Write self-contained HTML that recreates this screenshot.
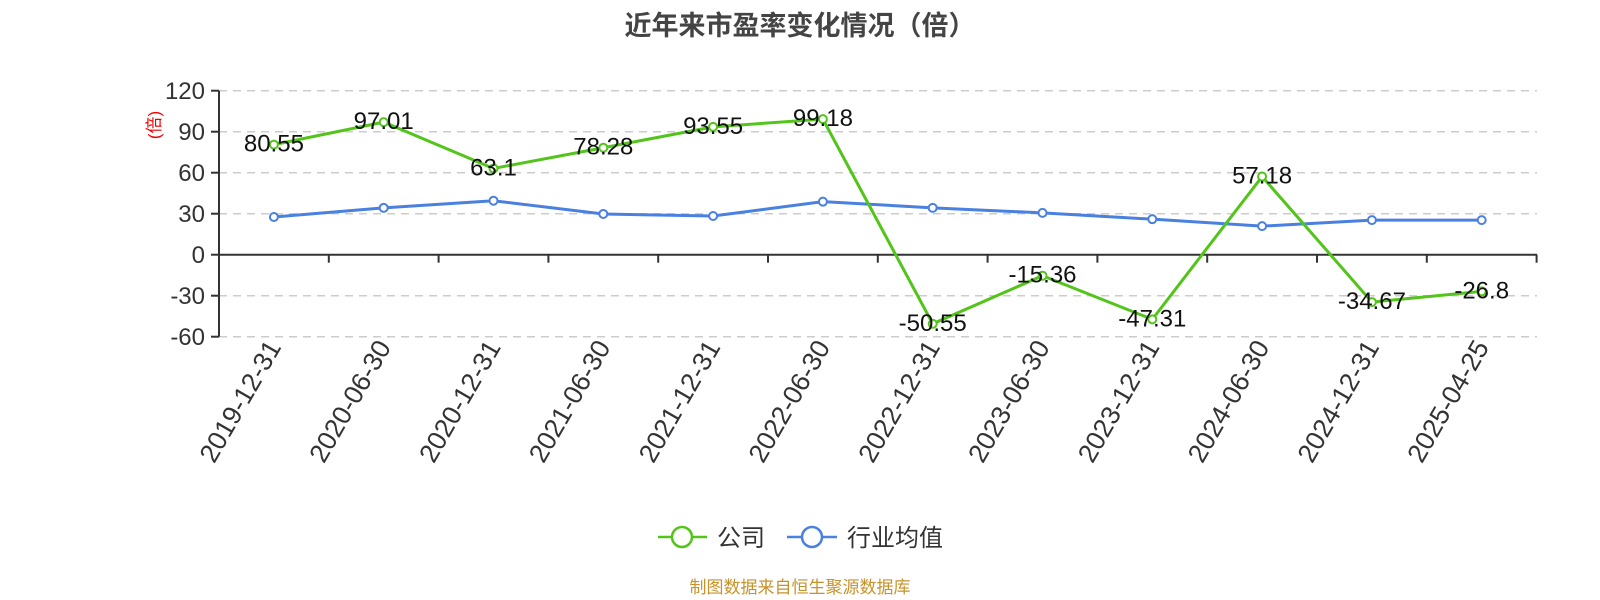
<!DOCTYPE html>
<html><head><meta charset="utf-8"><style>body{margin:0;background:#fff}svg{display:block}</style></head><body>
<svg width="1600" height="600" xmlns="http://www.w3.org/2000/svg" font-family="'Liberation Sans','Noto Sans CJK SC',sans-serif">
<text x="800" y="35" text-anchor="middle" font-size="27" font-weight="bold" fill="#444">近年来市盈率变化情况（倍）</text>
<g id="grid" stroke="#ccc" stroke-width="1.5" stroke-dasharray="8,6">
<line x1="219" x2="1537" y1="90.7" y2="90.7"/><line x1="219" x2="1537" y1="131.7" y2="131.7"/><line x1="219" x2="1537" y1="172.7" y2="172.7"/><line x1="219" x2="1537" y1="213.7" y2="213.7"/><line x1="219" x2="1537" y1="295.7" y2="295.7"/><line x1="219" x2="1537" y1="336.7" y2="336.7"/>
</g>
<g stroke="#333" stroke-width="2">
<line x1="219" y1="90.7" x2="219" y2="336.7"/>
<line x1="211" y1="90.7" x2="219" y2="90.7"/><line x1="211" y1="131.7" x2="219" y2="131.7"/><line x1="211" y1="172.7" x2="219" y2="172.7"/><line x1="211" y1="213.7" x2="219" y2="213.7"/><line x1="211" y1="254.7" x2="219" y2="254.7"/><line x1="211" y1="295.7" x2="219" y2="295.7"/><line x1="211" y1="336.7" x2="219" y2="336.7"/>
<line x1="219" y1="254.7" x2="1537" y2="254.7"/>
</g>
<g id="xt" stroke="#333" stroke-width="2"></g>
<g font-size="24" fill="#333" text-anchor="end">
<text x="205" y="99">120</text><text x="205" y="140">90</text><text x="205" y="181">60</text><text x="205" y="222">30</text><text x="205" y="263">0</text><text x="205" y="304">-30</text><text x="205" y="345">-60</text>
</g>
<text transform="translate(160,125) rotate(-90)" text-anchor="middle" font-size="17" fill="#e00">(倍)</text>
<g id="xl" font-size="26.5" fill="#333" text-anchor="end"></g>
<polyline id="pb" fill="none" stroke="#4a80e0" stroke-width="3"/>
<polyline id="pg" fill="none" stroke="#52c41a" stroke-width="3"/>
<g id="pts"></g>
<g id="lbl" font-size="24" fill="#111" text-anchor="middle"></g>
<g>
<line x1="658" y1="537" x2="707" y2="537" stroke="#52c41a" stroke-width="2.5"/><circle cx="682" cy="537" r="10" fill="#fff" stroke="#52c41a" stroke-width="2.5"/>
<text x="717" y="546" font-size="24" fill="#333">公司</text>
<line x1="787" y1="537" x2="837" y2="537" stroke="#4a80e0" stroke-width="2.5"/><circle cx="812" cy="537" r="10" fill="#fff" stroke="#4a80e0" stroke-width="2.5"/>
<text x="847" y="546" font-size="24" fill="#333">行业均值</text>
</g>
<text x="800" y="593" text-anchor="middle" font-size="17" fill="#c8922a">制图数据来自恒生聚源数据库</text>
<script>
var d=["2019-12-31","2020-06-30","2020-12-31","2021-06-30","2021-12-31","2022-06-30","2022-12-31","2023-06-30","2023-12-31","2024-06-30","2024-12-31","2025-04-25"];
var g=[80.55,97.01,63.1,78.28,93.55,99.18,-50.55,-15.36,-47.31,57.18,-34.67,-26.8];
var b=[27.6,34.3,39.5,29.8,28.3,38.8,34.3,30.6,26,20.9,25.3,25.3];
var X=i=>219+54.9+109.8*i, Y=v=>254.7-v*1.3667, ns="http://www.w3.org/2000/svg";
function el(t,a,p,txt){var e=document.createElementNS(ns,t);for(var k in a)e.setAttribute(k,a[k]);if(txt)e.textContent=txt;document.getElementById(p).appendChild(e);}
for(var i=1;i<=12;i++)el("line",{x1:219+109.8*i,x2:219+109.8*i,y1:254.7,y2:262.7},"xt");
d.forEach((s,i)=>el("text",{transform:"translate("+(X(i)+8)+",347) rotate(-60)"},"xl",s));
document.getElementById("pb").setAttribute("points",b.map((v,i)=>X(i)+","+Y(v)).join(" "));
document.getElementById("pg").setAttribute("points",g.map((v,i)=>X(i)+","+Y(v)).join(" "));
b.forEach((v,i)=>el("circle",{cx:X(i),cy:Y(v),r:4,fill:"#fff",stroke:"#4a80e0","stroke-width":2},"pts"));
g.forEach((v,i)=>{el("circle",{cx:X(i),cy:Y(v),r:4,fill:"#fff",stroke:"#52c41a","stroke-width":2},"pts");el("text",{x:X(i),y:Y(v)+7},"lbl",String(v));});
</script>
</svg>
</body></html>
